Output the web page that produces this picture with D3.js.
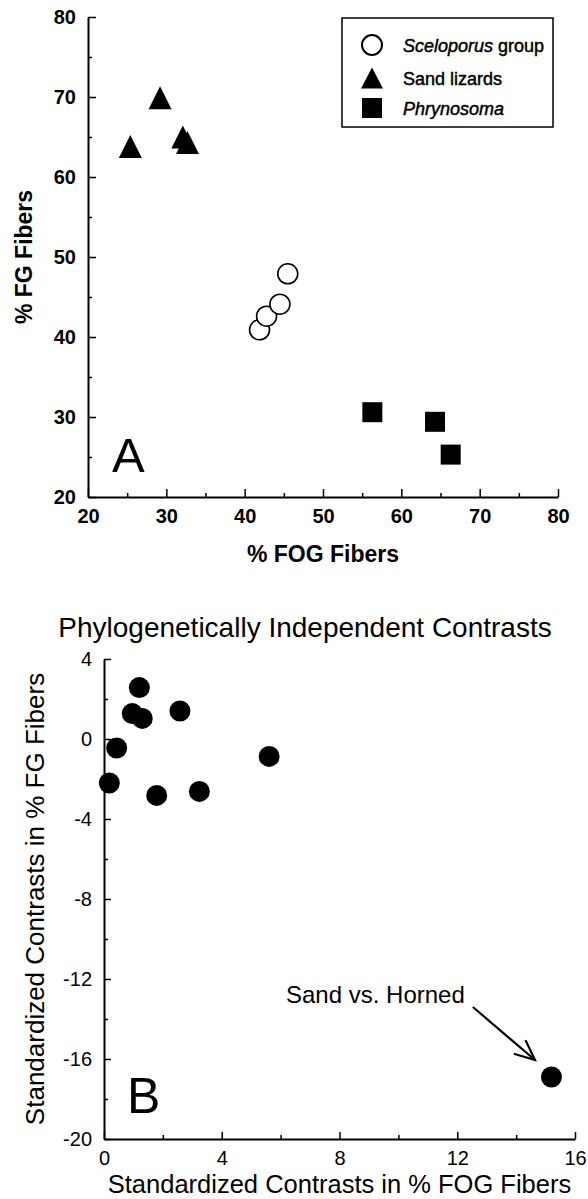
<!DOCTYPE html>
<html><head><meta charset="utf-8">
<script src="https://cdn.jsdelivr.net/npm/d3@7"></script>
<style>
html,body{margin:0;padding:0;background:#fff;}
svg{display:block;font-family:"Liberation Sans",Arial,Helvetica,sans-serif;}
</style></head>
<body>
<svg id="chart" width="588" height="1199"></svg>
<script>
// ---------- Panel A data ----------
const sceloporusFOG = [41.9, 42.8, 44.5, 45.5];
const sceloporusFG  = [40.9, 42.6, 44.1, 47.9];
const sandFOG = [25.4, 29.2, 32.1, 32.7];
const sandFG  = [63.8, 69.9, 65.0, 64.3];
const phrynoFOG = [56.3, 64.3, 66.3];
const phrynoFG  = [30.6, 29.4, 25.3];
const aTicks = [20, 30, 40, 50, 60, 70, 80];
const aMinor = [25, 35, 45, 55, 65, 75];
const legendLabels = [["Sceloporus", " group"], ["Sand lizards", ""], ["Phrynosoma", ""]];

// ---------- Panel B data ----------
const fogContrast = [0.18, 0.43, 0.96, 1.2, 1.3, 1.79, 2.58, 3.24, 5.61, 15.2];
const fgContrast  = [-2.2, -0.45, 1.27, 2.57, 1.03, -2.82, 1.4, -2.62, -0.87, -16.9];
const bxTicks = [0, 4, 8, 12, 16];
const bxMinor = [2, 6, 10, 14];
const byTicks = [4, 0, -4, -8, -12, -16, -20];
const byMinor = [2, -2, -6, -10, -14, -18];
const annotText = "Sand vs. Horned";
const arrowFrom = [12.53, -13.4];
const arrowTo = [14.64, -16.05];

const svg = d3.select("#chart");
const fmt = (d) => String(d); // plain hyphen-minus like the reference

// ================= Panel A =================
const xA = d3.scaleLinear().domain([20, 80]).range([88, 558]);
const yA = d3.scaleLinear().domain([20, 80]).range([497, 17]);
const gA = svg.append("g");

function styleAxis(g, fs, fw) {
  g.select(".domain").attr("stroke", "#000").attr("stroke-width", 2);
  g.selectAll(".tick line").attr("stroke", "#000").attr("stroke-width", 1.5);
  g.selectAll(".tick text").attr("fill", "#000").attr("font-size", fs).attr("font-weight", fw)
    .attr("font-family", "Liberation Sans, Arial, sans-serif");
}

gA.append("g").attr("transform", `translate(0,${yA(20)})`)
  .call(d3.axisBottom(xA).tickValues(aMinor).tickSize(-4).tickSizeOuter(0).tickFormat(""))
  .call(g => { g.select(".domain").remove(); g.selectAll("line").attr("stroke","#000").attr("stroke-width",1.5); });
gA.append("g").attr("transform", `translate(${xA(20)},0)`)
  .call(d3.axisLeft(yA).tickValues(aMinor).tickSize(-4).tickSizeOuter(0).tickFormat(""))
  .call(g => { g.select(".domain").remove(); g.selectAll("line").attr("stroke","#000").attr("stroke-width",1.5); });

const axAx = gA.append("g").attr("transform", `translate(0,${yA(20)})`)
  .call(d3.axisBottom(xA).tickValues(aTicks).tickSize(-8).tickSizeOuter(0).tickPadding(8).tickFormat(fmt));
styleAxis(axAx, 20, "bold");
axAx.selectAll(".tick text").attr("dy", "0.9em");
const axAy = gA.append("g").attr("transform", `translate(${xA(20)},0)`)
  .call(d3.axisLeft(yA).tickValues(aTicks).tickSize(-8).tickSizeOuter(0).tickPadding(12).tickFormat(fmt));
styleAxis(axAy, 20, "bold");

gA.append("text").attr("x", (xA(20) + xA(80)) / 2).attr("y", 562)
  .attr("text-anchor", "middle").attr("font-size", 23).attr("font-weight", "bold").text("% FOG Fibers");
gA.append("text").attr("transform", `translate(32,${(yA(20) + yA(80)) / 2}) rotate(-90)`)
  .attr("text-anchor", "middle").attr("font-size", 23).attr("font-weight", "bold").text("% FG Fibers");
gA.append("text").attr("x", 112).attr("y", 472).attr("font-size", 49).text("A");

function triPath(w, h) {
  return `M0,${-h / 2}L${w / 2},${h / 2}L${-w / 2},${h / 2}Z`;
}

gA.selectAll("circle.scel").data(sceloporusFOG).join("circle").attr("class", "scel")
  .attr("cx", (d) => xA(d)).attr("cy", (d, i) => yA(sceloporusFG[i])).attr("r", 10)
  .attr("fill", "#fff").attr("stroke", "#000").attr("stroke-width", 1.6);
gA.selectAll("path.sand").data(sandFOG).join("path").attr("class", "sand")
  .attr("transform", (d, i) => `translate(${xA(d)},${yA(sandFG[i])})`)
  .attr("d", triPath(23, 23)).attr("fill", "#000");
gA.selectAll("rect.phry").data(phrynoFOG).join("rect").attr("class", "phry")
  .attr("x", (d) => xA(d) - 10).attr("y", (d, i) => yA(phrynoFG[i]) - 10)
  .attr("width", 20).attr("height", 20).attr("fill", "#000");

// legend
const lg = gA.append("g");
lg.append("rect").attr("x", 342).attr("y", 18).attr("width", 211).attr("height", 109)
  .attr("fill", "#fff").attr("stroke", "#000").attr("stroke-width", 1.5);
const rowY = [45, 78, 108];
lg.append("circle").attr("cx", 372).attr("cy", rowY[0]).attr("r", 10)
  .attr("fill", "#fff").attr("stroke", "#000").attr("stroke-width", 2);
lg.append("path").attr("transform", `translate(372,${rowY[1]})`).attr("d", triPath(22, 21)).attr("fill", "#000");
lg.append("rect").attr("x", 362).attr("y", rowY[2] - 10).attr("width", 20).attr("height", 20).attr("fill", "#000");
legendLabels.forEach((l, i) => {
  const t = lg.append("text").attr("x", 403).attr("y", rowY[i] + 7).attr("font-size", 18)
    .attr("stroke", "#000").attr("stroke-width", 0.45);
  if (i === 1) {
    t.text(l[0]);
  } else {
    t.append("tspan").attr("font-style", "italic").text(l[0]);
    t.append("tspan").text(l[1]);
  }
});

// ================= Panel B =================
const xB = d3.scaleLinear().domain([0, 16]).range([104, 575]);
const yB = d3.scaleLinear().domain([-20, 4]).range([1139, 659]);
const gB = svg.append("g");

gB.append("g").attr("transform", `translate(0,${yB(-20)})`)
  .call(d3.axisBottom(xB).tickValues(bxMinor).tickSize(-4).tickSizeOuter(0).tickFormat(""))
  .call(g => { g.select(".domain").remove(); g.selectAll("line").attr("stroke","#000").attr("stroke-width",1.5); });
gB.append("g").attr("transform", `translate(${xB(0)},0)`)
  .call(d3.axisLeft(yB).tickValues(byMinor).tickSize(-4).tickSizeOuter(0).tickFormat(""))
  .call(g => { g.select(".domain").remove(); g.selectAll("line").attr("stroke","#000").attr("stroke-width",1.5); });

const bxAx = gB.append("g").attr("transform", `translate(0,${yB(-20)})`)
  .call(d3.axisBottom(xB).tickValues(bxTicks).tickSize(-7).tickSizeOuter(0).tickPadding(10).tickFormat(fmt));
styleAxis(bxAx, 20, "normal");
bxAx.selectAll(".tick text").attr("dy", "0.78em");
const byAx = gB.append("g").attr("transform", `translate(${xB(0)},0)`)
  .call(d3.axisLeft(yB).tickValues(byTicks).tickSize(-7).tickSizeOuter(0).tickPadding(12).tickFormat(fmt));
styleAxis(byAx, 20, "normal");

gB.append("text").attr("x", 305).attr("y", 637).attr("text-anchor", "middle")
  .attr("font-size", 28).text("Phylogenetically Independent Contrasts");
gB.append("text").attr("x", (xB(0) + xB(16)) / 2).attr("y", 1193.3).attr("text-anchor", "middle")
  .attr("font-size", 25.5).text("Standardized Contrasts in % FOG Fibers");
gB.append("text").attr("transform", `translate(44,${(yB(-20) + yB(4)) / 2}) rotate(-90)`)
  .attr("text-anchor", "middle").attr("font-size", 26).text("Standardized Contrasts in % FG Fibers");
gB.append("text").attr("x", 127).attr("y", 1113).attr("font-size", 50).text("B");

gB.selectAll("circle.pic").data(fogContrast).join("circle").attr("class", "pic")
  .attr("cx", (d) => xB(d)).attr("cy", (d, i) => yB(fgContrast[i])).attr("r", 10.5).attr("fill", "#000");

gB.append("text").attr("x", 286).attr("y", 1003).attr("font-size", 24).text(annotText);
const ax0 = xB(arrowFrom[0]), ay0 = yB(arrowFrom[1]);
const ax1 = xB(arrowTo[0]), ay1 = yB(arrowTo[1]);
gB.append("line").attr("x1", ax0).attr("y1", ay0).attr("x2", ax1).attr("y2", ay1)
  .attr("stroke", "#000").attr("stroke-width", 2.2);
const ang = Math.atan2(ay1 - ay0, ax1 - ax0);
const hl = 22, spread = 0.42;
gB.append("path")
  .attr("d", `M${ax1 - hl * Math.cos(ang - spread)},${ay1 - hl * Math.sin(ang - spread)}L${ax1},${ay1}L${ax1 - hl * Math.cos(ang + spread)},${ay1 - hl * Math.sin(ang + spread)}`)
  .attr("fill", "none").attr("stroke", "#000").attr("stroke-width", 2.2);
</script>
</body></html>
